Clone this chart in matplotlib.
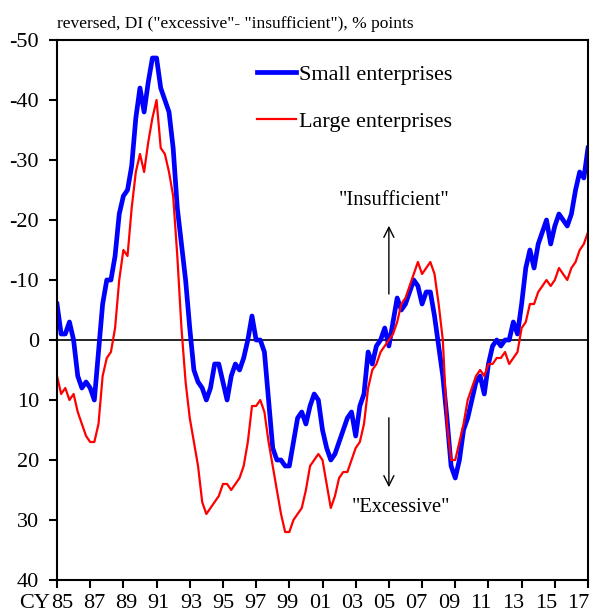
import matplotlib
matplotlib.use("Agg")
import matplotlib.pyplot as plt
import matplotlib.transforms as mtransforms
import numpy as np

plt.rcParams['font.family'] = ['Liberation Serif', 'DejaVu Serif']
plt.rcParams['axes.unicode_minus'] = False

start_year = 1985
small = [-6, -1, -1, -3, 0, 6, 8, 7, 8, 10, 2, -6, -10, -10, -14, -21, -24, -25, -29, -37,
         -42, -38, -43, -47, -47, -42, -40, -38, -32, -22, -16, -10, -2, 5, 7, 8, 10, 8, 4, 4,
         7, 10, 6, 4, 5, 3, 0, -4, 0, 0, 2, 10, 18, 20, 20, 21, 21, 17, 13, 12,
         14, 11, 9, 10, 15, 18, 20, 19, 17, 15, 13, 12, 16, 11, 9, 2, 4, 1, 0, -2,
         1, -3, -7, -5, -6, -8, -10, -9, -6, -8, -8, -4, 1, 6, 13, 21, 23, 20, 15, 13,
         10, 7, 6, 9, 4, 1, 0, 1, 0, 0, -3, -1, -6, -12, -15, -12, -16, -18, -20, -16,
         -19, -21, -20, -19, -21, -25, -28, -27, -32]
large = [6, 9, 8, 10, 9, 12, 14, 16, 17, 17, 14, 6, 3, 2, -2, -10, -15, -14, -22, -28,
         -31, -28, -33, -37, -40, -32, -31, -28, -24, -14, -2, 7, 13, 17, 21, 27, 29, 28, 27, 26,
         24, 24, 25, 24, 23, 21, 17, 11, 11, 10, 12, 17, 21, 25, 29, 32, 32, 30, 29, 28,
         25, 21, 20, 19, 20, 24, 28, 26, 23, 22, 22, 20, 18, 17, 14, 8, 5, 4, 2, 1,
         0, -1, -3, -6, -7, -9, -11, -13, -11, -12, -13, -11, -6, 0, 14, 20, 20, 17, 14, 10,
         8, 6, 5, 6, 4, 4, 3, 3, 2, 4, 3, 2, -2, -3, -6, -6, -8, -9, -10, -9,
         -10, -12, -11, -10, -12, -13, -15, -16, -18]
tick_years = list(range(1985, 2018, 2))
tick_labels = ['%02d' % (y % 100) for y in tick_years]
y_ticks = [-50, -40, -30, -20, -10, 0, 10, 20, 30, 40]
series_labels = ['Small enterprises', 'Large enterprises']
title_text = 'reversed, DI ("excessive"- "insufficient"), % points'

x = start_year + np.arange(len(small)) / 4.0

fig = plt.figure(figsize=(5.92, 6.15), dpi=100)
ax = fig.add_axes([57/592, 1 - 580/615, (588-57)/592, (580-40)/615])

ax.plot(x, small, color='#0000ff', lw=3.4, label=series_labels[0], solid_joinstyle='round')
ax.plot(x, large, color='#ff0000', lw=1.6, label=series_labels[1])
ax.axhline(0, color='black', lw=1.2, zorder=1)

ax.set_xlim(1985, 2017)
ax.set_ylim(40, -50)
ax.set_yticks(y_ticks)
ax.set_yticklabels([str(v) for v in y_ticks])
ax.set_xticks(tick_years)
ax.set_xticklabels([])
ax.tick_params(axis='both', direction='out', length=6, width=1.5, labelsize=16, color='black')
ax.tick_params(axis='y', pad=7)
for s in ax.spines.values():
    s.set_linewidth(1.5)
    s.set_color('black')

# x labels, spread evenly slightly inside the outer ticks
trans = mtransforms.blended_transform_factory(ax.transAxes, ax.transAxes)
n = len(tick_labels)
first_frac, last_frac = 5 / 531, 521 / 531
for k, lab in enumerate(tick_labels):
    fx = first_frac + k * (last_frac - first_frac) / (n - 1)
    ax.text(fx, -0.026, lab, transform=trans, ha='center', va='top', fontsize=16, clip_on=False)
ax.text(first_frac - 0.023, -0.026, 'CY', transform=trans, ha='right', va='top', fontsize=16)

ax.text(0.0, 1.015, title_text, transform=ax.transAxes, ha='left', va='bottom', fontsize=12.5)

leg = ax.legend(loc='upper left', bbox_to_anchor=(0.36, 0.972), frameon=False, fontsize=16,
                handlelength=1.75, handletextpad=0.15, labelspacing=1.2, borderaxespad=0)

ax.annotate('', xy=(2005.0, -19.5), xytext=(2005.0, -7.2),
            arrowprops=dict(arrowstyle='->', color='black', lw=1.0, mutation_scale=18))
ax.annotate('', xy=(2005.0, 25), xytext=(2005.0, 12.5),
            arrowprops=dict(arrowstyle='->', color='black', lw=1.0, mutation_scale=18))
ax.text(2005.3, -23.3, '"Insufficient"', ha='center', va='center', fontsize=14.8)
ax.text(2005.7, 28.0, '"Excessive"', ha='center', va='center', fontsize=14.8)

fig.savefig('out.png', dpi=100)
